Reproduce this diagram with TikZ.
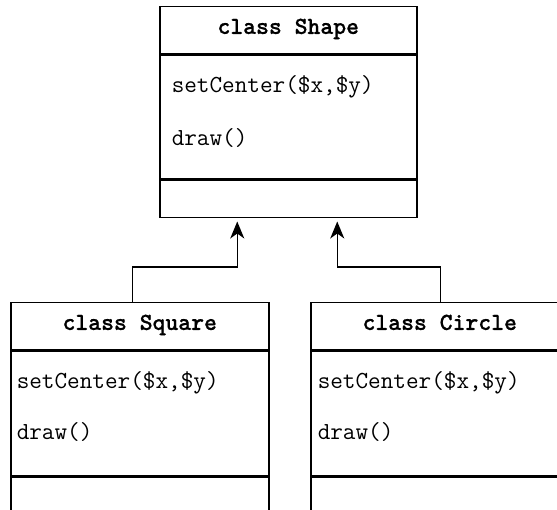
\documentclass[tikz,border=0pt]{standalone}
\usepackage{fontspec}
\newfontfamily\hdrfont{lmmonolt10-bold.otf}[FakeBold=0.8]
\usetikzlibrary{arrows.meta,positioning}

\begin{document}
\begin{tikzpicture}[x=1pt, y=-1pt, >=Stealth, line width=1.5pt,
  hdr/.style={draw, minimum width=#1, minimum height=47pt, inner sep=0pt, text height=1.9ex, text depth=0.2ex, font=\hdrfont\fontsize{24.5}{26}\selectfont},
  body/.style={draw, minimum width=#1, minimum height=124pt, inner sep=0pt},
  foot/.style={draw, minimum width=#1, minimum height=37pt, inner sep=0pt},
  meth/.style={anchor=west, inner sep=0pt, font=\ttfamily\fontsize{24.5}{26}\selectfont},
  inherit/.style={->, line width=1.3pt, shorten >=3pt, arrows={-Stealth[length=17pt,width=14pt,inset=5pt]}}]
\clip (0,0) rectangle (557,510);
% base class
\node[hdr=257pt, anchor=north west] (shapeH) at (159,6) {class Shape};
\node[body=257pt, below=0pt of shapeH] (shapeB) {};
\node[foot=257pt, below=0pt of shapeB] (shapeF) {};
\node[meth] (shapeM1) at ([xshift=12pt,yshift=-32pt]shapeB.north west) {setCenter(\$x,\$y)};
\node[meth] (shapeM2) at ([xshift=12pt,yshift=-84pt]shapeB.north west) {draw()};
% derived classes
\node[hdr=258pt, anchor=north west] (squareH) at (10,302) {class Square};
\node[body=258pt, below=0pt of squareH] (squareB) {};
\node[foot=258pt, below=0pt of squareB] (squareF) {};
\node[meth] (squareM1) at ([xshift=6pt,yshift=-32pt]squareB.north west) {setCenter(\$x,\$y)};
\node[meth] (squareM2) at ([xshift=6pt,yshift=-82pt]squareB.north west) {draw()};
\node[hdr=258pt, anchor=north west] (circleH) at (310,302) {class Circle};
\node[body=258pt, below=0pt of circleH] (circleB) {};
\node[foot=258pt, below=0pt of circleB] (circleF) {};
\node[meth] (circleM1) at ([xshift=7pt,yshift=-32pt]circleB.north west) {setCenter(\$x,\$y)};
\node[meth] (circleM2) at ([xshift=7pt,yshift=-82pt]circleB.north west) {draw()};
% inheritance
\draw[inherit] ([xshift=-7pt]squareH.north) -- ++(0,-35) -| ([xshift=-51pt]shapeF.south);
\draw[inherit] ([xshift=1pt]circleH.north) -- ++(0,-35) -| ([xshift=49pt]shapeF.south);
\end{tikzpicture}
\end{document}
